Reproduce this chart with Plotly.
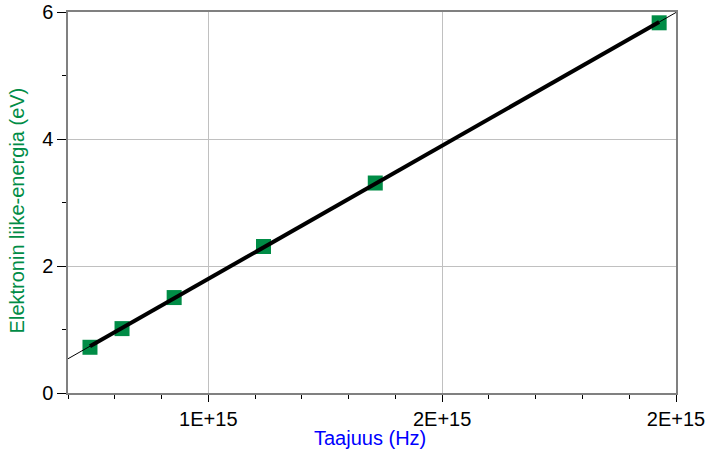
import numpy as np
import plotly.graph_objects as go

# Data (frequency in Hz, kinetic energy in eV)
freq_hz = [0.747e15, 0.8155e15, 0.927e15, 1.118e15, 1.357e15, 1.964e15]
energy_ev = [0.72, 1.014, 1.503, 2.307, 3.307, 5.83]

x_range = [0.7e15, 2.0e15]
y_range = [0, 6]
x_tickvals = [1.0e15, 1.5e15, 2.0e15]
x_ticktext = ["1E+15", "2E+15", "2E+15"]
y_tickvals = [0, 2, 4, 6]
y_ticktext = ["0", "2", "4", "6"]

slope, intercept = np.polyfit(np.array(freq_hz) / 1e15, np.array(energy_ev), 1)

def fit(xs):
    return [slope * (x / 1e15) + intercept for x in xs]

green = "#008C46"
font_family = "Liberation Sans, Arial, sans-serif"

fig = go.Figure()
fig.add_trace(go.Scatter(
    x=freq_hz, y=energy_ev, mode="markers",
    marker=dict(symbol="square", size=15, color=green, line=dict(width=0)),
    showlegend=False, hoverinfo="x+y"))
fig.add_trace(go.Scatter(
    x=x_range, y=fit(x_range), mode="lines",
    line=dict(color="black", width=1), showlegend=False))
x_data_ends = [min(freq_hz), max(freq_hz)]
fig.add_trace(go.Scatter(
    x=x_data_ends, y=fit(x_data_ends), mode="lines",
    line=dict(color="black", width=4), showlegend=False))

fig.update_layout(
    width=713, height=456,
    margin=dict(l=68, r=37, t=12, b=63),
    paper_bgcolor="white", plot_bgcolor="white",
    font=dict(family=font_family, size=20, color="black"),
    xaxis=dict(
        range=x_range, tickvals=x_tickvals, ticktext=x_ticktext,
        automargin=False,
        showgrid=True, gridcolor="#C0C0C0", gridwidth=1,
        showline=True, linecolor="#808080", linewidth=2, mirror=True,
        ticks="outside", ticklen=7, tickcolor="black", tickwidth=1,
        minor=dict(dtick=0.1e15, tick0=0.7e15, ticks="outside", ticklen=4,
                   tickcolor="black", showgrid=False),
        zeroline=False, tickfont=dict(size=20, color="black"),
    ),
    yaxis=dict(
        range=y_range, tickvals=y_tickvals, ticktext=y_ticktext,
        automargin=False,
        showgrid=True, gridcolor="#C0C0C0", gridwidth=1,
        showline=True, linecolor="#808080", linewidth=1.5, mirror=True,
        ticks="outside", ticklen=9, tickcolor="black", tickwidth=1,
        minor=dict(dtick=1, tick0=0, ticks="outside", ticklen=4,
                   tickcolor="black", showgrid=False),
        zeroline=False, tickfont=dict(size=20, color="black"),
    ),
    annotations=[
        dict(text="Taajuus (Hz)", xref="paper", yref="paper", x=0.4975, y=0,
             yshift=-45, xanchor="center", yanchor="middle", showarrow=False,
             font=dict(size=20, color="#0000FF", family=font_family)),
        dict(text="Elektronin liike-energia (eV)", xref="paper", yref="paper",
             x=0, xshift=-51.5, y=0.478, xanchor="center", yanchor="middle",
             textangle=-90, showarrow=False,
             font=dict(size=20, color=green, family=font_family)),
    ],
)

fig.write_html("out.html", config={"displayModeBar": False},
               post_script="document.body.style.margin='0';")
